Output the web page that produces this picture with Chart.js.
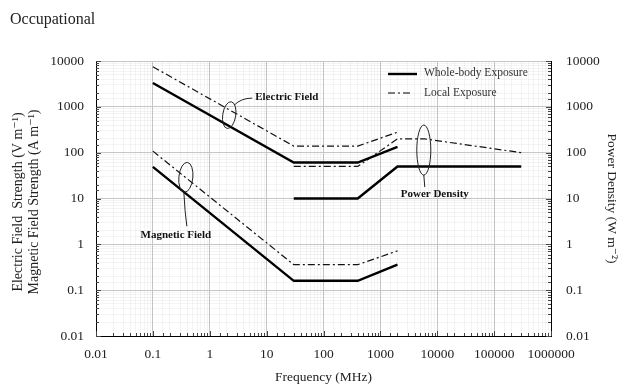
<!DOCTYPE html>
<html>
<head>
<meta charset="utf-8">
<script src="https://cdn.jsdelivr.net/npm/chart.js@4.4.0/dist/chart.umd.min.js"></script>
<style>
  body { margin: 0; background: #fff; }
  #wrap { position: relative; width: 620px; height: 386px; }
  #heading { position: absolute; left: 10px; top: 10px; font-family: 'Liberation Serif', serif; font-size: 16px; color: #222; }
</style>
</head>
<body>
<div id="wrap">
  <div id="heading">Occupational</div>
  <canvas id="chart" width="620" height="386"></canvas>
</div>
<script>
const FONT = "'Liberation Serif', 'DejaVu Serif', serif";

// frequency (MHz) / limit pairs
const fieldFreq = [0.1, 30, 400, 2000];
const eWhole = [3300, 61, 61, 134];
const eLocal = [7500, 139, 139, 280];
const hWhole = [49, 0.16, 0.16, 0.36];
const hLocal = [108, 0.36, 0.36, 0.72];
const sWholeFreq = [30, 400, 2000, 300000];
const sWhole = [10, 10, 50, 50];
const sLocalFreq = [30, 400, 2000, 6000, 300000];
const sLocal = [50, 50, 200, 200, 100];

const xTickLabels = ['0.01', '0.1', '1', '10', '100', '1000', '10000', '100000', '1000000'];
const yTickLabels = ['0.01', '0.1', '1', '10', '100', '1000', '10000'];

// annotation anchors in data units: [freq, value]
const eLoop = [2.2, 660];
const hLoop = [0.38, 29];
const sLoop = [5800, 114];

function pts(xs, ys) { return xs.map((x, i) => ({ x: x, y: ys[i] })); }
function isDecade(v) { const l = Math.log10(v); return Math.abs(l - Math.round(l)) < 1e-6; }
function decadeLabel(labels, first) {
  return function (v) {
    if (!isDecade(v)) return '';
    return labels[Math.round(Math.log10(v)) - first] || '';
  };
}

const solid = { borderColor: '#000', borderWidth: 2.4, pointRadius: 0, fill: false, tension: 0 };
const dashdot = { borderColor: '#111', borderWidth: 1.2, borderDash: [7, 3, 2, 3], pointRadius: 0, fill: false, tension: 0 };

const decor = {
  id: 'decor',
  afterDatasetsDraw(chart) {
    const c = chart.ctx, a = chart.chartArea;
    const x = chart.scales.x, y = chart.scales.y;
    c.save();
    // inward minor ticks
    c.strokeStyle = '#444';
    c.lineWidth = 1;
    c.beginPath();
    x.ticks.forEach(t => {
      const px = Math.round(x.getPixelForValue(t.value)) + 0.5;
      const len = isDecade(t.value) ? 5 : 3;
      c.moveTo(px, a.bottom); c.lineTo(px, a.bottom - len);
    });
    y.ticks.forEach(t => {
      const py = Math.round(y.getPixelForValue(t.value)) + 0.5;
      const len = isDecade(t.value) ? 5 : 3;
      c.moveTo(a.left, py); c.lineTo(a.left + len, py);
      c.moveTo(a.right, py); c.lineTo(a.right - len, py);
    });
    c.stroke();

    // legend
    const lx = a.right - 163;
    c.strokeStyle = '#000';
    c.lineWidth = 2.4;
    c.beginPath(); c.moveTo(lx, a.top + 13); c.lineTo(lx + 29, a.top + 13); c.stroke();
    c.lineWidth = 1.2;
    c.setLineDash([7, 3, 2, 3]);
    c.beginPath(); c.moveTo(lx, a.top + 32); c.lineTo(lx + 25, a.top + 32); c.stroke();
    c.setLineDash([]);
    c.fillStyle = '#333';
    c.font = '11.5px ' + FONT;
    c.textBaseline = 'middle';
    c.textAlign = 'left';
    c.fillText('Whole-body Exposure', lx + 36, a.top + 12);
    c.fillText('Local Exposure', lx + 36, a.top + 32);

    // annotation loops and leaders
    c.strokeStyle = '#222';
    c.lineWidth = 1;
    const ex = x.getPixelForValue(eLoop[0]), ey = y.getPixelForValue(eLoop[1]);
    c.beginPath(); c.ellipse(ex, ey, 6.5, 13.5, 0.15, 0, Math.PI * 2); c.stroke();
    c.beginPath(); c.moveTo(ex + 5, ey - 10); c.quadraticCurveTo(ex + 12, ey - 17, ex + 23, ey - 17); c.stroke();
    const hx = x.getPixelForValue(hLoop[0]), hy = y.getPixelForValue(hLoop[1]);
    c.beginPath(); c.ellipse(hx, hy, 7, 15, 0.1, 0, Math.PI * 2); c.stroke();
    c.beginPath(); c.moveTo(hx - 2, hy + 15); c.quadraticCurveTo(hx - 1, hy + 35, hx + 1, hy + 49); c.stroke();
    const sx = x.getPixelForValue(sLoop[0]), sy = y.getPixelForValue(sLoop[1]);
    c.beginPath(); c.ellipse(sx, sy, 7, 25, 0, 0, Math.PI * 2); c.stroke();
    c.beginPath(); c.moveTo(sx, sy + 25); c.lineTo(sx + 1, sy + 37); c.stroke();

    c.fillStyle = '#111';
    c.font = 'bold 11px ' + FONT;
    c.textAlign = 'left';
    c.fillText('Electric Field', ex + 26, ey - 18);
    c.textAlign = 'center';
    c.fillText('Magnetic Field', hx - 10, hy + 58);
    c.fillText('Power Density', sx + 11, sy + 44);
    c.restore();
  }
};

const tickFont = { family: FONT, size: 13.5 };
const titleFont = { family: FONT, size: 13.5 };

new Chart(document.getElementById('chart'), {
  type: 'line',
  data: {
    datasets: [
      Object.assign({ label: 'E whole-body', data: pts(fieldFreq, eWhole), yAxisID: 'y' }, solid),
      Object.assign({ label: 'E local', data: pts(fieldFreq, eLocal), yAxisID: 'y' }, dashdot),
      Object.assign({ label: 'H whole-body', data: pts(fieldFreq, hWhole), yAxisID: 'y' }, solid),
      Object.assign({ label: 'H local', data: pts(fieldFreq, hLocal), yAxisID: 'y' }, dashdot),
      Object.assign({ label: 'S whole-body', data: pts(sWholeFreq, sWhole), yAxisID: 'y2' }, solid),
      Object.assign({ label: 'S local', data: pts(sLocalFreq, sLocal), yAxisID: 'y2' }, dashdot)
    ]
  },
  options: {
    responsive: false,
    animation: false,
    layout: { padding: { top: 61, left: 0, right: 0, bottom: 0 } },
    plugins: { legend: { display: false }, tooltip: { enabled: false } },
    scales: {
      x: {
        type: 'logarithmic', min: 0.01, max: 1000000,
        border: { color: '#000', width: 1 },
        grid: { color: ctx => isDecade(ctx.tick.value) ? '#c6c6c6' : 'rgba(0,0,0,0.045)', drawTicks: false },
        ticks: { autoSkip: false, maxRotation: 0, padding: 10, color: '#222', font: tickFont, callback: decadeLabel(xTickLabels, -2) },
        title: { display: true, text: 'Frequency (MHz)', color: '#222', font: titleFont, padding: { top: 2, bottom: 0 } },
        afterFit: s => { s.height = 50; }
      },
      y: {
        type: 'logarithmic', position: 'left', min: 0.01, max: 10000,
        border: { color: '#000', width: 1 },
        grid: { color: ctx => isDecade(ctx.tick.value) ? '#c6c6c6' : 'rgba(0,0,0,0.045)', drawTicks: false },
        ticks: { autoSkip: false, padding: 12, color: '#222', font: tickFont, callback: decadeLabel(yTickLabels, -2) },
        title: { display: true, text: ['Electric Field  Strength (V m⁻¹)  ', 'Magnetic Field Strength (A m⁻¹)  '], color: '#222', font: { family: FONT, size: 14, lineHeight: 1.1 }, padding: { top: 11, bottom: 0 } },
        afterFit: s => { s.width = 96; }
      },
      y2: {
        type: 'logarithmic', position: 'right', min: 0.01, max: 10000,
        border: { color: '#000', width: 1 },
        grid: { drawOnChartArea: false, drawTicks: false },
        ticks: { autoSkip: false, padding: 15, color: '#222', font: tickFont, callback: decadeLabel(yTickLabels, -2) },
        title: { display: true, text: 'Power Density (W m⁻²)', color: '#222', font: titleFont, padding: { top: 0, bottom: 2 } },
        afterFit: s => { s.width = 69; }
      }
    }
  },
  plugins: [decor]
});
</script>
</body>
</html>
